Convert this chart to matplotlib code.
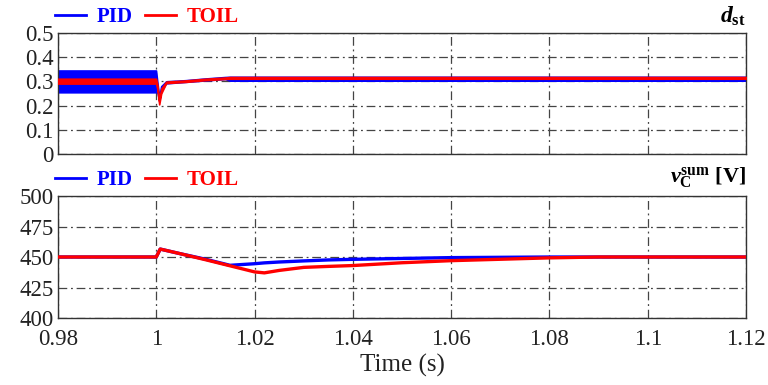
import numpy as np
import matplotlib.pyplot as plt
from matplotlib.lines import Line2D

plt.rcParams['font.family'] = ['Liberation Serif', 'DejaVu Serif']
plt.rcParams['mathtext.fontset'] = 'custom'
plt.rcParams['mathtext.rm'] = 'Liberation Serif:bold'
plt.rcParams['mathtext.it'] = 'Liberation Serif:bold:italic'
plt.rcParams['mathtext.bf'] = 'Liberation Serif:bold'

# duty cycle d_st: ripple envelopes (upper / lower)
t_d = [0.98, 0.99995, 1.0002, 1.0006, 1.001, 1.002, 1.006, 1.01, 1.014, 1.015, 1.12]
pid_d_hi = [0.345, 0.345, 0.30, 0.235, 0.28, 0.300, 0.305, 0.312, 0.318, 0.319, 0.319]
pid_d_lo = [0.255, 0.255, 0.26, 0.218, 0.26, 0.292, 0.298, 0.304, 0.310, 0.303, 0.303]
toil_d_hi = [0.311, 0.311, 0.29, 0.220, 0.27, 0.299, 0.304, 0.311, 0.316, 0.318, 0.318]
toil_d_lo = [0.291, 0.291, 0.27, 0.205, 0.25, 0.293, 0.298, 0.305, 0.310, 0.311, 0.311]

# capacitor voltage sum
t_v = [0.98, 1.0, 1.0008, 1.005, 1.01, 1.015, 1.02, 1.022, 1.025, 1.03, 1.035,
       1.04, 1.05, 1.06, 1.08, 1.09, 1.12]
pid_v = [450, 450, 456.5, 452.6, 448.2, 443.2, 444.5, 445.2, 445.9, 446.8, 447.6,
         448.1, 448.8, 449.5, 450, 450, 450]
toil_v = [450, 450, 456.5, 452.6, 447.8, 442.8, 437.8, 437.0, 439.0, 441.5, 442.3,
          443.0, 445.3, 447.0, 449.3, 450, 450]

x_ticks = [0.98, 1.0, 1.02, 1.04, 1.06, 1.08, 1.1, 1.12]
x_labels = ['0.98', '1', '1.02', '1.04', '1.06', '1.08', '1.1', '1.12']
d_ticks = [0, 0.1, 0.2, 0.3, 0.4, 0.5]
d_labels = ['0', '0.1', '0.2', '0.3', '0.4', '0.5']
v_ticks = [400, 425, 450, 475, 500]

fig = plt.figure(figsize=(7.68, 3.85), dpi=100)
ax1 = fig.add_axes([0.0755, 0.600, 0.8958, 0.3143])
ax2 = fig.add_axes([0.0755, 0.174, 0.8958, 0.3169])


def style(ax):
    ax.set_xlim(0.98, 1.12)
    ax.set_xticks(x_ticks)
    ax.grid(True, color='#444444', linestyle=(0, (7, 3, 1.5, 3)), linewidth=0.9)
    ax.set_axisbelow(True)
    for s in ax.spines.values():
        s.set_color('#333333')
        s.set_linewidth(1.0)
    ax.tick_params(direction='in', length=0, labelsize=16.5, colors='#222222', pad=3)
    leg = ax.legend(handles=[Line2D([], [], color='blue', lw=2),
                             Line2D([], [], color='red', lw=2)],
                    labels=['PID', 'TOIL'], loc='lower left',
                    bbox_to_anchor=(-0.005, 1.05), ncol=2, frameon=False,
                    handlelength=1.5, handletextpad=0.5, columnspacing=0.6,
                    borderaxespad=0, borderpad=0,
                    prop={'weight': 'bold', 'size': 15})
    for txt, c in zip(leg.get_texts(), ['blue', 'red']):
        txt.set_color(c)


# top panel
ax1.fill_between(t_d, pid_d_lo, pid_d_hi, color='blue', lw=1.2, zorder=2)
ax1.fill_between(t_d, toil_d_lo, toil_d_hi, color='red', lw=1.2, zorder=3)
ax1.set_ylim(0, 0.5)
ax1.set_yticks(d_ticks)
ax1.set_yticklabels(d_labels)
style(ax1)
ax1.set_xticklabels([])
ax1.text(1.0, 1.04, r'$d_{\mathrm{st}}$', transform=ax1.transAxes,
         ha='right', va='bottom', fontsize=17)

# bottom panel
ax2.plot(t_v, pid_v, color='blue', lw=2.4, zorder=2)
ax2.plot(t_v, toil_v, color='red', lw=2.4, zorder=3)
ax2.set_ylim(400, 500)
ax2.set_yticks(v_ticks)
style(ax2)
ax2.set_xticklabels(x_labels)
ax2.tick_params(axis='x', pad=8)
ax2.set_xlabel('Time (s)', fontsize=18, color='#222222', labelpad=3)
ax2.text(1.0, 1.04, r'$v_{\mathrm{C}}^{\mathrm{sum}}\ \mathrm{[V]}$', transform=ax2.transAxes,
         ha='right', va='bottom', fontsize=16)

fig.savefig('out.png', dpi=100)
